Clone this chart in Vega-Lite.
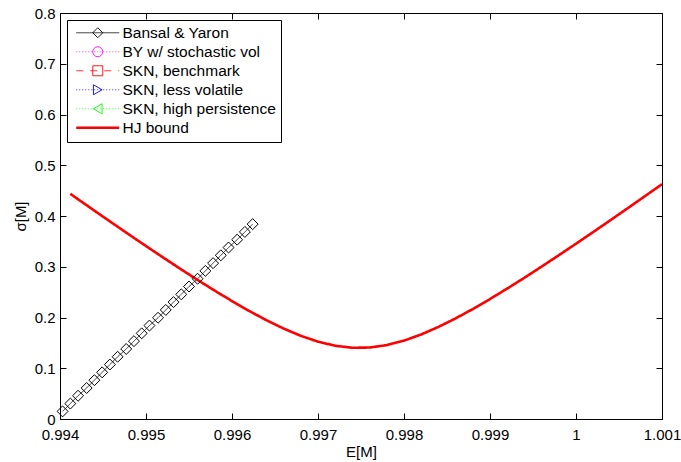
{
  "$schema": "https://vega.github.io/schema/vega-lite/v6.json",
  "width": 602,
  "height": 406,
  "autosize": "none",
  "padding": {"left": 60, "top": 13, "right": 19, "bottom": 43},
  "background": "white",
  "config": {
    "font": "Liberation Sans",
    "view": {"stroke": null},
    "axis": {
      "grid": false,
      "domainColor": "black",
      "domainWidth": 1,
      "tickColor": "black",
      "tickWidth": 1,
      "tickSize": -6,
      "labelColor": "black",
      "labelFont": "Liberation Sans",
      "labelFontSize": 15,
      "titleFont": "Liberation Sans",
      "titleFontSize": 15,
      "titleFontWeight": "normal",
      "titleColor": "black",
      "labelFlush": false,
      "labelOverlap": false
    }
  },
  "data": {
    "values": [
      {"series": "Bansal & Yaron", "marker": "BY", "E": 0.99403, "sigma": 0.0150},
      {"series": "Bansal & Yaron", "marker": "BY", "E": 0.99412, "sigma": 0.0304},
      {"series": "Bansal & Yaron", "marker": "BY", "E": 0.99421, "sigma": 0.0458},
      {"series": "Bansal & Yaron", "marker": "BY", "E": 0.99431, "sigma": 0.0611},
      {"series": "Bansal & Yaron", "marker": "BY", "E": 0.99440, "sigma": 0.0765},
      {"series": "Bansal & Yaron", "marker": "BY", "E": 0.99449, "sigma": 0.0919},
      {"series": "Bansal & Yaron", "marker": "BY", "E": 0.99458, "sigma": 0.1073},
      {"series": "Bansal & Yaron", "marker": "BY", "E": 0.99467, "sigma": 0.1226},
      {"series": "Bansal & Yaron", "marker": "BY", "E": 0.99477, "sigma": 0.1380},
      {"series": "Bansal & Yaron", "marker": "BY", "E": 0.99486, "sigma": 0.1534},
      {"series": "Bansal & Yaron", "marker": "BY", "E": 0.99495, "sigma": 0.1688},
      {"series": "Bansal & Yaron", "marker": "BY", "E": 0.99504, "sigma": 0.1841},
      {"series": "Bansal & Yaron", "marker": "BY", "E": 0.99514, "sigma": 0.1995},
      {"series": "Bansal & Yaron", "marker": "BY", "E": 0.99523, "sigma": 0.2149},
      {"series": "Bansal & Yaron", "marker": "BY", "E": 0.99532, "sigma": 0.2303},
      {"series": "Bansal & Yaron", "marker": "BY", "E": 0.99541, "sigma": 0.2456},
      {"series": "Bansal & Yaron", "marker": "BY", "E": 0.99550, "sigma": 0.2610},
      {"series": "Bansal & Yaron", "marker": "BY", "E": 0.99560, "sigma": 0.2764},
      {"series": "Bansal & Yaron", "marker": "BY", "E": 0.99569, "sigma": 0.2918},
      {"series": "Bansal & Yaron", "marker": "BY", "E": 0.99578, "sigma": 0.3071},
      {"series": "Bansal & Yaron", "marker": "BY", "E": 0.99587, "sigma": 0.3225},
      {"series": "Bansal & Yaron", "marker": "BY", "E": 0.99596, "sigma": 0.3379},
      {"series": "Bansal & Yaron", "marker": "BY", "E": 0.99606, "sigma": 0.3533},
      {"series": "Bansal & Yaron", "marker": "BY", "E": 0.99615, "sigma": 0.3686},
      {"series": "Bansal & Yaron", "marker": "BY", "E": 0.99624, "sigma": 0.3840},
      {"series": "HJ bound", "E": 0.99412, "sigma": 0.4437},
      {"series": "HJ bound", "E": 0.9942, "sigma": 0.4342},
      {"series": "HJ bound", "E": 0.9944, "sigma": 0.4105},
      {"series": "HJ bound", "E": 0.9946, "sigma": 0.3871},
      {"series": "HJ bound", "E": 0.9948, "sigma": 0.3638},
      {"series": "HJ bound", "E": 0.9950, "sigma": 0.3408},
      {"series": "HJ bound", "E": 0.9952, "sigma": 0.3181},
      {"series": "HJ bound", "E": 0.9954, "sigma": 0.2958},
      {"series": "HJ bound", "E": 0.9956, "sigma": 0.2740},
      {"series": "HJ bound", "E": 0.9958, "sigma": 0.2528},
      {"series": "HJ bound", "E": 0.9960, "sigma": 0.2324},
      {"series": "HJ bound", "E": 0.9962, "sigma": 0.2129},
      {"series": "HJ bound", "E": 0.9964, "sigma": 0.1947},
      {"series": "HJ bound", "E": 0.9966, "sigma": 0.1782},
      {"series": "HJ bound", "E": 0.9968, "sigma": 0.1639},
      {"series": "HJ bound", "E": 0.9970, "sigma": 0.1524},
      {"series": "HJ bound", "E": 0.9972, "sigma": 0.1443},
      {"series": "HJ bound", "E": 0.9974, "sigma": 0.1404},
      {"series": "HJ bound", "E": 0.9976, "sigma": 0.1408},
      {"series": "HJ bound", "E": 0.9978, "sigma": 0.1456},
      {"series": "HJ bound", "E": 0.9980, "sigma": 0.1544},
      {"series": "HJ bound", "E": 0.9982, "sigma": 0.1666},
      {"series": "HJ bound", "E": 0.9984, "sigma": 0.1814},
      {"series": "HJ bound", "E": 0.9986, "sigma": 0.1982},
      {"series": "HJ bound", "E": 0.9988, "sigma": 0.2167},
      {"series": "HJ bound", "E": 0.9990, "sigma": 0.2364},
      {"series": "HJ bound", "E": 0.9992, "sigma": 0.2570},
      {"series": "HJ bound", "E": 0.9994, "sigma": 0.2783},
      {"series": "HJ bound", "E": 0.9996, "sigma": 0.3003},
      {"series": "HJ bound", "E": 0.9998, "sigma": 0.3227},
      {"series": "HJ bound", "E": 1.0000, "sigma": 0.3454},
      {"series": "HJ bound", "E": 1.0002, "sigma": 0.3684},
      {"series": "HJ bound", "E": 1.0004, "sigma": 0.3917},
      {"series": "HJ bound", "E": 1.0006, "sigma": 0.4152},
      {"series": "HJ bound", "E": 1.0008, "sigma": 0.4389},
      {"series": "HJ bound", "E": 1.0010, "sigma": 0.4627}
    ]
  },
  "resolve": {"axis": {"x": "independent", "y": "independent"}},
  "layer": [
    {
      "mark": {"type": "line", "clip": true},
      "encoding": {
        "x": {
          "field": "E", "type": "quantitative",
          "scale": {"domain": [0.994, 1.001], "nice": false, "zero": false},
          "axis": {
            "orient": "bottom", "title": "E[M]",
            "values": [0.994, 0.995, 0.996, 0.997, 0.998, 0.999, 1, 1.001],
            "format": ".4~g", "labelPadding": 14,
            "titleY": 37, "titleBaseline": "alphabetic"
          }
        },
        "y": {
          "field": "sigma", "type": "quantitative",
          "scale": {"domain": [0, 0.8], "nice": false, "zero": false},
          "axis": {
            "orient": "left", "title": "σ[M]",
            "values": [0, 0.1, 0.2, 0.3, 0.4, 0.5, 0.6, 0.7, 0.8],
            "format": "~g", "labelPadding": 11,
            "titleX": -35, "titleBaseline": "alphabetic"
          }
        },
        "color": {
          "field": "series", "type": "nominal",
          "scale": {
            "domain": ["Bansal & Yaron", "BY w/ stochastic vol", "SKN, benchmark", "SKN, less volatile", "SKN, high persistence", "HJ bound"],
            "range": ["#000000", "#ff00ff", "#ff0000", "#0000ff", "#00ff00", "#ff0000"]
          },
          "legend": {
            "orient": "none", "legendX": 7, "legendY": 7, "title": null,
            "strokeColor": "black", "padding": 5,
            "symbolType": "M-4.3,0H4.3", "symbolSize": 100,
            "symbolOffset": 18, "labelOffset": 17,
            "labelFont": "Liberation Sans", "labelFontSize": 15.5, "labelColor": "black",
            "rowPadding": 2, "labelLimit": 300
          }
        },
        "strokeDash": {
          "field": "series", "type": "nominal",
          "scale": {
            "domain": ["Bansal & Yaron", "BY w/ stochastic vol", "SKN, benchmark", "SKN, less volatile", "SKN, high persistence", "HJ bound"],
            "range": [[1, 0], [1, 2], [7, 7], [1, 2], [1, 2], [1, 0]]
          }
        },
        "strokeWidth": {
          "field": "series", "type": "nominal",
          "scale": {
            "type": "ordinal",
            "domain": ["Bansal & Yaron", "BY w/ stochastic vol", "SKN, benchmark", "SKN, less volatile", "SKN, high persistence", "HJ bound"],
            "range": [0.8, 0.8, 0.8, 0.8, 0.8, 2.6]
          }
        }
      }
    },
    {
      "transform": [{"filter": "datum.series === 'Bansal & Yaron'"}],
      "mark": {"type": "point", "filled": false, "size": 120, "strokeWidth": 1, "opacity": 1},
      "encoding": {
        "x": {
          "field": "E", "type": "quantitative",
          "scale": {"domain": [0.994, 1.001], "nice": false, "zero": false},
          "axis": {
            "orient": "top", "title": null, "labels": false,
            "values": [0.994, 0.995, 0.996, 0.997, 0.998, 0.999, 1, 1.001]
          }
        },
        "y": {
          "field": "sigma", "type": "quantitative",
          "scale": {"domain": [0, 0.8], "nice": false, "zero": false},
          "axis": {
            "orient": "right", "title": null, "labels": false,
            "values": [0, 0.1, 0.2, 0.3, 0.4, 0.5, 0.6, 0.7, 0.8]
          }
        },
        "shape": {
          "field": "marker", "type": "nominal",
          "scale": {
            "domain": ["BY", "BYSV", "SKN1", "SKN2", "SKN3", "HJ"],
            "range": ["diamond", "circle", "square", "triangle-right", "triangle-left", "circle"]
          },
          "legend": {
            "orient": "none", "legendX": 7, "legendY": 7, "title": null,
            "padding": 5, "symbolSize": 100, "symbolOffset": 18, "labelOffset": 17,
            "symbolStrokeWidth": 0.9,
            "labelFont": "Liberation Sans", "labelFontSize": 15.5, "labelExpr": "''",
            "rowPadding": 2
          }
        },
        "stroke": {
          "field": "marker", "type": "nominal",
          "scale": {
            "domain": ["BY", "BYSV", "SKN1", "SKN2", "SKN3", "HJ"],
            "range": ["#000000", "#ff00ff", "#ff0000", "#0000ff", "#00ff00", "rgba(0,0,0,0)"]
          }
        }
      }
    }
  ]
}
